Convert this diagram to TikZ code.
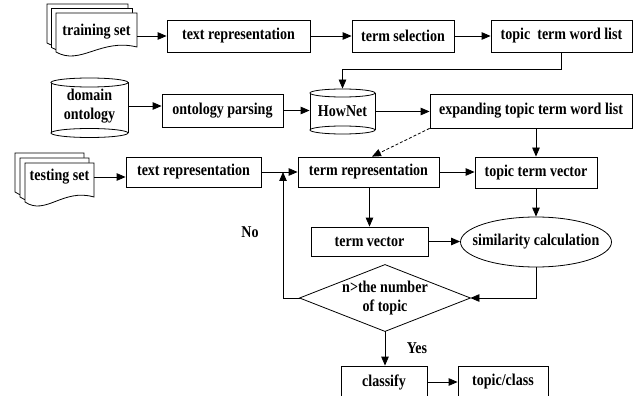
\documentclass[tikz,border=0pt]{standalone}
\usepackage{fontspec}
\setmainfont[FakeStretch=0.85]{Liberation Serif}
\usetikzlibrary{arrows.meta,calc}
\newcommand\docshape[4]{%
  \draw[fill=white] (#1,#4) -- (#1,#2) -- (#3,#2) -- (#3,{#4-5})
    .. controls ({#1+0.55*(#3-#1)},{#4-14}) and ({#1+0.3*(#3-#1)},{#4+14}) .. (#1,#4) -- cycle;}
\newcommand\cylshape[5]{%
  \fill[white] ({#1-#4},#2) rectangle ({#1+#4},#3);
  \draw ({#1-#4},#2) -- ({#1-#4},#3) ({#1+#4},#2) -- ({#1+#4},#3);
  \draw[fill=white] (#1,#2) ellipse [x radius=#4, y radius=#5];
  \draw (#1,#3) ellipse [x radius=#4, y radius=#5];}
\begin{document}
\begin{tikzpicture}[x=1pt,y=-1pt, line width=0.8pt,
  every node/.style={font=\bfseries\fontsize{16.5}{18.5}\selectfont, inner sep=0pt, align=center},
  bx/.style 2 args={draw, minimum width=#1pt, minimum height=#2pt},
  arr/.style={-{Triangle[length=9pt,width=7.5pt]}},
  dsh/.style={dash pattern=on 3pt off 2pt}]
\useasboundingbox (0,0) rectangle (633,396);
% documents
\docshape{47}{4}{128}{43}
\docshape{51.5}{8.5}{132.5}{47.5}
\docshape{56}{13}{137}{52}
\docshape{15}{153}{84}{192}
\docshape{20}{158}{89}{197}
\docshape{25}{163}{94}{202}
% cylinders
\cylshape{89.5}{82.5}{133}{38.5}{4.5}
\cylshape{342.5}{93}{130}{32.5}{4}
% nodes
\node (trdoc) at (96.5,32) [minimum width=81pt, minimum height=26pt] {training set};
\node[bx={143}{32}] (trep1) at (238.5,36) {text representation};
\node[bx={102}{32}] (tsel) at (403,36) {term selection};
\node[bx={141}{32}] (ttwl) at (561.5,36) {topic\ \ term word list};
\node (dom) at (89.5,106) [minimum width=77pt, minimum height=58pt] {domain\\ontology};
\node[bx={121}{33}] (opars) at (222.5,110.5) {ontology parsing};
\node (hown) at (342.5,111.5) [minimum width=65pt, minimum height=45pt] {HowNet};
\node[bx={202}{34}] (exp) at (531,111) {expanding topic term word list};
\node (tsdoc) at (59.5,177) [minimum width=69pt, minimum height=26pt] {testing set};
\node[bx={135}{30}] (trep2) at (193.5,172) {text representation};
\node[bx={141}{30}] (trm) at (368.5,172) {term representation};
\node[bx={122}{31}] (ttv) at (536,172.5) {topic term vector};
\node[bx={117}{29}] (tvec) at (369.5,241.5) {term vector};
\node (sim) at (536,242) [minimum width=151pt, minimum height=50pt] {similarity calculation};
\draw (sim.center) ellipse [x radius=75.5, y radius=25];
\node (dia) at (385,298) [minimum width=170pt, minimum height=66pt] {n>the number\\of topic};
\draw (dia.north) -- (dia.east) -- (dia.south) -- (dia.west) -- cycle;
\node[bx={86}{32}] (cls) at (384,382) {classify};
\node[bx={90}{32}] (tcls) at (503,382) {topic/class};
\node (no) at (250,232) {No};
\node (yes) at (417,348) {Yes};
\coordinate (fb) at (283,172);
% connectors
\draw[arr] (trdoc.east |- trep1.west) -- (trep1.west);
\draw[arr] (trep1) -- (tsel);
\draw[arr] (tsel) -- (ttwl);
\draw[arr] (ttwl.south) -- ++(0,17) -| (hown.north);
\draw[arr] (dom.east) -- (dom.east -| opars.west);
\draw[arr] (opars.east) -- (opars.east -| hown.west);
\draw[arr] (hown.east) -- (hown.east -| exp.west);
\draw[arr, dsh] (exp.south west) -- ([xshift=3.5pt]trm.north);
\draw[arr] (ttv.north |- exp.south) -- (ttv.north);
\draw[arr] (tsdoc.east) -- (tsdoc.east -| trep2.west);
\draw[arr] (trep2) -- (trm);
\draw[arr] (trm.east) -- (trm.east -| ttv.west);
\draw[arr] (tvec.north |- trm.south) -- (tvec.north);
\draw[arr] (ttv) -- (sim);
\draw[arr] (tvec.east) -- (tvec.east -| sim.west);
\draw[arr] (sim.south) |- (dia.east);
\draw[arr] (dia.west) -| (fb);
\draw[arr] (dia.south) -- (dia.south |- cls.north);
\draw[arr] (cls) -- (tcls);
\end{tikzpicture}
\end{document}
